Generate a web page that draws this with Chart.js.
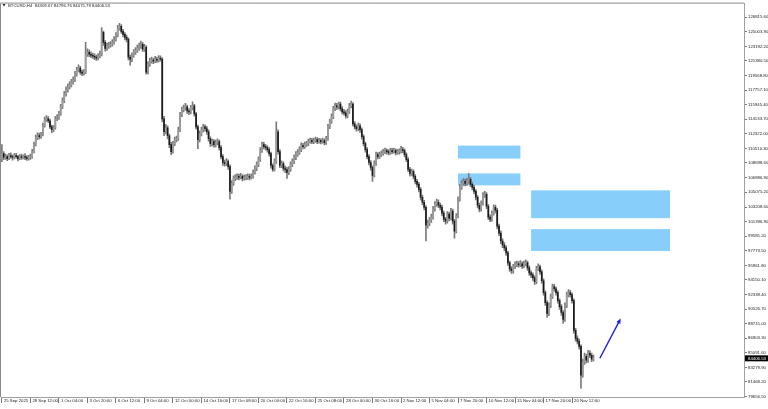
<!DOCTYPE html>
<html><head><meta charset="utf-8">
<script src="https://cdn.jsdelivr.net/npm/chart.js@4.4.1/dist/chart.umd.min.js"></script>
<style>html,body{margin:0;padding:0;background:#fff;overflow:hidden}canvas{display:block}</style>
</head><body>
<canvas id="c" width="768" height="409"></canvas>
<script>
const symbolName = 'BTCUSD,H4';
const headerValues = ['84309.67','84796.76','84075.79','84406.53'];
const xTickLabels = ['25 Sep 2025','28 Sep 12:00','1 Oct 04:00','3 Oct 20:00','6 Oct 12:00','9 Oct 04:00','12 Oct 00:00','14 Oct 16:00','17 Oct 08:00','20 Oct 00:00','22 Oct 16:00','25 Oct 08:00','28 Oct 00:00','30 Oct 16:00','2 Nov 12:00','5 Nov 04:00','7 Nov 20:00','10 Nov 12:00','15 Nov 04:00','17 Nov 20:00','20 Nov 12:00'];
const barsPerLabel = 16;
const totalSlots = 417;
const yTickValues = [126815.60,125003.90,123192.20,121380.50,119568.80,117757.10,115945.40,114133.70,112322.00,110510.30,108698.60,106886.90,105075.20,103208.60,101396.90,99585.20,97773.50,95961.80,94150.10,92338.40,90526.70,88715.00,86903.30,85091.60,83279.90,81468.20,79656.50];

const opens = [
109240,109860,109370,109490,109240,109610,109490,109370,109610,109490,
109240,109490,109370,109490,109370,109240,109370,109490,110110,110970,
111840,112080,111960,112210,113320,114060,114180,113940,113190,112820,
113070,114180,114310,114800,115660,116410,117270,117760,118130,118380,
118750,119000,119740,120230,120480,119990,119860,119990,122210,122460,
122210,122090,121960,121840,121720,121960,122210,124930,123690,122950,
123200,123320,123440,123690,124060,124560,125420,125670,125050,124680,
124310,124060,121840,121590,122090,122460,122700,122950,123200,123440,
122830,123070,119990,120970,121350,121470,121350,121590,121470,121720,
121590,114180,112580,113070,112080,110970,110110,111090,111590,111710,
112820,114680,115290,115540,115660,115170,115050,115540,115790,114800,
113190,111590,112330,112820,113190,112950,112580,111710,111090,111340,
110970,111220,111340,110600,109490,108750,108620,108870,108250,105170,
106150,106770,106900,107020,106900,107020,106770,106900,106900,107020,
106900,107020,107510,108010,108500,109120,110230,110970,110720,110600,
110350,109860,108380,107880,108870,112580,110110,108380,108620,108010,
107880,107510,107880,108500,108870,109370,109740,109980,110350,110850,
110720,110970,111090,111340,111470,111340,111470,111590,111340,111470,
111340,111470,111220,111710,113190,113810,114430,115420,115790,115660,
116030,115420,115050,114920,114550,115050,115790,116030,113560,113190,
112950,113320,112820,111960,111090,110350,109490,108750,108130,107140,
108620,109740,109490,109740,109860,110110,110230,110110,109980,110230,
110110,110230,109980,110110,110110,110350,110230,109740,109120,107880,
107390,107640,107020,106400,106030,105410,104430,103810,103190,100970,
101210,101590,101960,102940,103560,103810,103440,103190,102450,101710,
101460,102330,101830,102700,101460,100230,102080,104180,105660,106150,
106400,106150,106400,106650,106030,105660,105170,104430,103440,102940,
103680,104670,104800,103310,101960,101710,102450,103190,102820,100840,
99980,98990,98500,98130,97510,96270,95530,95290,95780,96030,
96150,96030,96150,95900,96150,96270,95660,95040,94790,94420,
93930,95530,95780,95160,94050,92570,91330,89980,90960,92080,
93310,93060,92570,91580,90840,90100,89240,90960,92320,92570,
92320,91580,87880,86890,86520,85900,82320,83920,84670,84170,
85040,84790,84309.67];

const highs = [
110970,110100,109800,109700,109900,109950,109700,109850,109900,109650,
109750,109800,109700,109850,109600,109650,109800,110400,111300,112150,
112450,112400,112500,113650,114400,114600,114450,114150,113400,113350,
114500,114700,115100,116000,116800,117600,118150,118500,118800,119100,
119400,120100,120600,120900,120700,120250,120300,123690,122900,122750,
122500,122350,122250,122100,122300,122600,125540,125100,123900,123600,
123700,123800,124050,124400,124900,125800,126040,125900,125300,124900,
124600,124250,122100,122400,122800,123050,123350,123600,123850,123700,
123450,123300,121300,121700,121850,121750,121950,121850,122050,122000,
121800,114500,113500,113300,112300,111250,111400,111900,112050,113150,
115000,115650,115900,116100,115900,115450,115850,116300,116000,115000,
113400,112700,113150,113500,113450,113250,112800,111950,111650,111600,
111550,111700,111550,110850,109750,109050,109250,109100,108450,106500,
107100,107250,107350,107300,107400,107250,107200,107250,107350,107300,
107350,107850,108350,108850,109450,110600,111300,111250,111000,110850,
110600,110050,108600,109200,113810,112800,110350,108950,108850,108300,
108150,108250,108850,109200,109700,110100,110350,110700,111200,111150,
111300,111400,111650,111800,111750,111800,111900,111850,111750,111700,
111800,111700,112000,113500,114150,114800,115750,116150,116100,116280,
116250,115700,115350,115200,115400,116100,116400,116200,113850,113450,
113650,113550,113050,112200,111300,110600,109750,109000,108350,108950,
110050,110000,110050,110200,110400,110550,110450,110350,110500,110500,
110550,110450,110400,110450,110750,110650,110450,109950,109350,108150,
107950,107850,107250,106650,106300,105650,104700,104050,103400,101600,
101950,102350,103300,103900,104200,104100,103700,103450,102700,101950,
102650,102600,103050,102950,101700,102400,104500,106000,106500,106750,
106700,106800,107390,106900,106300,105900,105400,104650,103700,104000,
105000,105170,105000,103550,102250,102750,103500,103450,103050,101100,
100250,99250,98800,98400,97750,96500,95800,96100,96400,96500,
96450,96550,96400,96500,96650,96500,95900,95300,95050,94650,
95850,96150,96000,95400,94300,92800,91550,91300,92400,93650,
93600,93300,92800,91800,91100,90350,91300,92650,92950,92850,
92550,91800,88150,87200,86800,86100,84300,85050,84950,85400,
85350,85050,84796.76];

const lows = [
108870,109120,109150,108990,109100,109250,109050,109200,109300,108950,
109100,109150,109200,109100,109000,109050,109150,109300,109950,110800,
111600,111700,111750,112050,113150,113850,113700,112950,112450,112600,
112900,113950,114100,114600,115450,116200,117000,117500,117900,118150,
118500,118800,119500,120000,119700,119550,119600,119800,121950,121900,
121800,121700,121550,121450,121500,121750,122000,123300,122600,122700,
122950,123100,123200,123450,123850,124350,125200,124800,124350,124000,
123750,121500,120850,121300,121850,122200,122450,122700,122950,122550,
122550,119740,119750,120700,121100,121050,121150,121200,121250,121350,
113810,112100,112300,111700,110600,109740,109900,110850,111300,111500,
112600,114450,115050,115250,114850,114700,114800,115300,114500,112900,
110480,111300,112050,112550,112650,112250,111400,110750,110800,110650,
110700,110950,110300,109200,108400,108300,108350,107900,104180,104900,
105900,106500,106650,106600,106700,106450,106550,106600,106650,106600,
106700,106800,107300,107750,108250,108900,110000,110450,110300,110050,
109550,108050,107640,107700,108650,109800,108100,108100,107700,107500,
106770,107250,107650,108250,108600,109100,109500,109750,110100,110450,
110500,110750,110850,111150,111100,111100,111250,111100,111150,111050,
111150,110950,111000,111500,112950,113600,114200,115200,115350,115400,
115150,114750,114650,114250,114300,114850,115550,113300,112900,112650,
112700,112500,111650,110800,110050,109200,108450,107800,106400,106950,
108400,109200,109250,109500,109650,109850,109800,109700,109750,109850,
109900,109700,109750,109800,109900,109950,109450,108850,107600,107050,
107150,106700,106100,105700,105100,104100,103500,102850,98990,100600,
100900,101300,101700,102700,103300,103150,102850,102100,101400,101100,
101200,101500,101600,101100,99360,100000,101850,103950,105400,105900,
105850,105900,106150,105750,105350,104850,104100,103100,102600,102700,
103450,104400,103000,101650,101400,101450,102200,102500,100500,99650,
98650,98150,97800,97200,95950,95200,94950,95000,95550,95800,
95750,95800,95600,95650,95900,95350,94700,94450,94100,93600,
93700,95300,94850,93750,92250,91000,89480,89700,90700,91850,
92750,92250,91250,90500,89750,88740,89000,90700,92050,92000,
91250,87550,86550,86200,85550,80710,82050,83650,83850,83900,
84500,84000,84075.79];

const closes = [
109860,109370,109490,109240,109610,109490,109370,109610,109490,109240,
109490,109370,109490,109370,109240,109370,109490,110110,110970,111840,
112080,111960,112210,113320,114060,114180,113940,113190,112820,113070,
114180,114310,114800,115660,116410,117270,117760,118130,118380,118750,
119000,119740,120230,120480,119990,119860,119990,122210,122460,122210,
122090,121960,121840,121720,121960,122210,124930,123690,122950,123200,
123320,123440,123690,124060,124560,125420,125670,125050,124680,124310,
124060,121840,121590,122090,122460,122700,122950,123200,123440,122830,
123070,119990,120970,121350,121470,121350,121590,121470,121720,121590,
114180,112580,113070,112080,110970,110110,111090,111590,111710,112820,
114680,115290,115540,115660,115170,115050,115540,115790,114800,113190,
111590,112330,112820,113190,112950,112580,111710,111090,111340,110970,
111220,111340,110600,109490,108750,108620,108870,108250,105170,106150,
106770,106900,107020,106900,107020,106770,106900,106900,107020,106900,
107020,107510,108010,108500,109120,110230,110970,110720,110600,110350,
109860,108380,107880,108870,112580,110110,108380,108620,108010,107880,
107510,107880,108500,108870,109370,109740,109980,110350,110850,110720,
110970,111090,111340,111470,111340,111470,111590,111340,111470,111340,
111470,111220,111710,113190,113810,114430,115420,115790,115660,116030,
115420,115050,114920,114550,115050,115790,116030,113560,113190,112950,
113320,112820,111960,111090,110350,109490,108750,108130,107140,108620,
109740,109490,109740,109860,110110,110230,110110,109980,110230,110110,
110230,109980,110110,110110,110350,110230,109740,109120,107880,107390,
107640,107020,106400,106030,105410,104430,103810,103190,100970,101210,
101590,101960,102940,103560,103810,103440,103190,102450,101710,101460,
102330,101830,102700,101460,100230,102080,104180,105660,106150,106400,
106150,106400,106650,106030,105660,105170,104430,103440,102940,103680,
104670,104800,103310,101960,101710,102450,103190,102820,100840,99980,
98990,98500,98130,97510,96270,95530,95290,95780,96030,96150,
96030,96150,95900,96150,96270,95660,95040,94790,94420,93930,
95530,95780,95160,94050,92570,91330,89980,90960,92080,93310,
93060,92570,91580,90840,90100,89240,90960,92320,92570,92320,
91580,87880,86890,86520,85900,82320,83920,84670,84170,85040,
84790,84309.67,84406.53];

// zones: bar index range and price range
const zoneStart = [256, 256, 297, 297];
const zoneEnd = [291, 291, 375, 375];
const zoneTop = [110850, 107390, 105290, 100470];
const zoneBottom = [109240, 105910, 101830, 97760];

// arrow: bar index and price at tail and head
const arrowFrom = [335.6, 84420];
const arrowTo = [347.3, 89360];

const FONT = '"Liberation Sans", Arial, sans-serif';
const FS = 4.3;

const catLabels = Array.from({length: totalSlots}, (_, i) => String(i));
const wickData = lows.map((l, i) => [l, highs[i]]);
const bodyData = opens.map((o, i) => [o, closes[i]]);
const bodyColors = opens.map((o, i) => closes[i] >= o ? '#9c9c9c' : '#1a1a1a');

const overlay = {
  id: 'overlay',
  beforeDatasetsDraw(chart) {
    const {ctx, scales: {x, y}} = chart;
    ctx.save();
    ctx.fillStyle = '#87cefa';
    for (let k = 0; k < zoneStart.length; k++) {
      const x0 = x.getPixelForValue(zoneStart[k]), x1 = x.getPixelForValue(zoneEnd[k]);
      const y0 = y.getPixelForValue(zoneTop[k]), y1 = y.getPixelForValue(zoneBottom[k]);
      ctx.fillRect(x0, y0, x1 - x0, y1 - y0);
    }
    ctx.restore();
  },
  afterDraw(chart) {
    const {ctx, chartArea: a, scales: {x, y}} = chart;
    ctx.save();
    ctx.strokeStyle = '#8a8a8a';
    ctx.lineWidth = 1;
    ctx.beginPath();
    ctx.moveTo(a.left - 0.5, a.bottom);
    ctx.lineTo(a.left - 0.5, a.top - 0.5);
    ctx.lineTo(a.right, a.top - 0.5);
    ctx.stroke();
    const ax0 = x.getPixelForValue(arrowFrom[0]), ay0 = y.getPixelForValue(arrowFrom[1]);
    const ax1 = x.getPixelForValue(arrowTo[0]), ay1 = y.getPixelForValue(arrowTo[1]);
    const ang = Math.atan2(ay1 - ay0, ax1 - ax0);
    ctx.strokeStyle = '#1f1fee';
    ctx.fillStyle = '#1f1fee';
    ctx.lineWidth = 1.4;
    ctx.beginPath();
    ctx.moveTo(ax0, ay0);
    ctx.lineTo(ax1 - 3 * Math.cos(ang), ay1 - 3 * Math.sin(ang));
    ctx.stroke();
    ctx.beginPath();
    ctx.moveTo(ax1, ay1);
    ctx.lineTo(ax1 - 5 * Math.cos(ang) + 2.2 * Math.sin(ang), ay1 - 5 * Math.sin(ang) - 2.2 * Math.cos(ang));
    ctx.lineTo(ax1 - 5 * Math.cos(ang) - 2.2 * Math.sin(ang), ay1 - 5 * Math.sin(ang) + 2.2 * Math.cos(ang));
    ctx.closePath();
    ctx.fill();
    ctx.fillStyle = '#222';
    ctx.beginPath();
    ctx.moveTo(2.5, 4); ctx.lineTo(5.5, 4); ctx.lineTo(4, 6.5); ctx.closePath(); ctx.fill();
    ctx.font = FS + 'px ' + FONT;
    ctx.textBaseline = 'middle';
    ctx.textAlign = 'left';
    ctx.fillText(symbolName + '  ' + headerValues.join(' '), 8, 5.5);
    const last = closes[closes.length - 1];
    const py = y.getPixelForValue(last);
    ctx.fillStyle = '#000';
    ctx.fillRect(a.right + 1, py - 3, 768 - a.right - 1, 6);
    ctx.fillStyle = '#fff';
    ctx.fillText(last.toFixed(2), a.right + 4, py + 0.2);
    ctx.restore();
  }
};

new Chart(document.getElementById('c'), {
  type: 'bar',
  data: {
    labels: catLabels,
    datasets: [
      {data: wickData, backgroundColor: '#7a7a7a', barThickness: 1, grouped: false, order: 2},
      {data: bodyData, backgroundColor: bodyColors, barThickness: 1, grouped: false, minBarLength: 1, order: 1}
    ]
  },
  options: {
    responsive: false,
    animation: false,
    devicePixelRatio: 1,
    layout: {padding: {left: 1, top: 1, right: 0, bottom: 0}},
    plugins: {legend: {display: false}, tooltip: {enabled: false}},
    scales: {
      x: {
        type: 'category',
        offset: true,
        afterBuildTicks(s) { s.ticks = s.ticks.filter(t => t.value % barsPerLabel === 0 && t.value / barsPerLabel < xTickLabels.length); },
        afterFit(s) { s.height = 12; },
        grid: {display: true, drawOnChartArea: false, drawTicks: true, tickLength: 6, offset: false, color: '#777', lineWidth: 1},
        border: {display: true, color: '#a0a0a0', width: 1},
        ticks: {
          autoSkip: false, maxRotation: 0, minRotation: 0, align: 'start', labelOffset: 2, padding: -5,
          color: '#222', font: {family: FONT, size: FS},
          callback(v) { return xTickLabels[v / barsPerLabel]; }
        }
      },
      y: {
        type: 'linear',
        position: 'right',
        min: 79600,
        max: 128510,
        afterBuildTicks(s) { s.ticks = yTickValues.map(v => ({value: v})); },
        afterFit(s) { s.width = 24; },
        grid: {display: true, drawOnChartArea: false, drawTicks: true, tickLength: 3, color: '#777'},
        border: {display: true, color: '#a0a0a0', width: 1},
        ticks: {padding: 1, color: '#222', font: {family: FONT, size: FS}, callback(v) { return Number(v).toFixed(2); }}
      }
    }
  },
  plugins: [overlay]
});
</script>
</body></html>
